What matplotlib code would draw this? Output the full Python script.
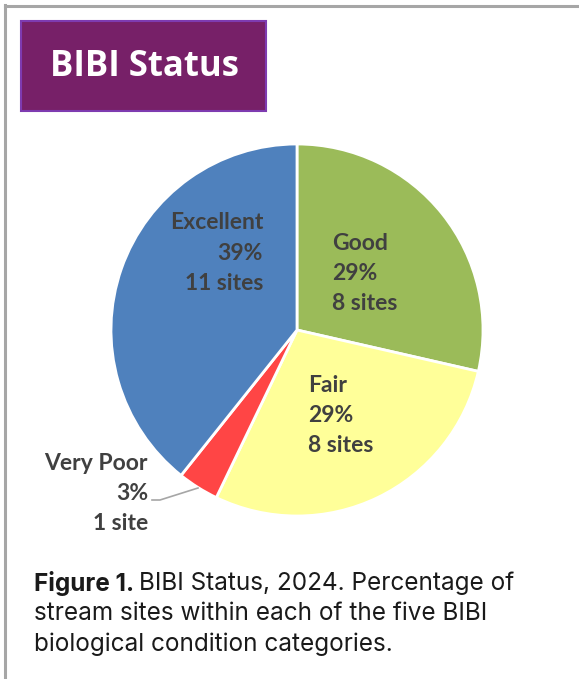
import matplotlib
matplotlib.use("Agg")
import matplotlib.pyplot as plt
from matplotlib.patches import Rectangle
from matplotlib.lines import Line2D

categories = ["Good", "Fair", "Very Poor", "Excellent"]
sites = [8, 8, 1, 11]
pct_labels = ["29%", "29%", "3%", "39%"]
site_labels = ["8 sites", "8 sites", "1 site", "11 sites"]
colors = ["#9BBB59", "#FFFF99", "#FF4545", "#4F81BD"]

W, H = 579, 679
fig = plt.figure(figsize=(W / 100, H / 100), dpi=100)
fig.patch.set_facecolor("white")

def fx(x):
    return x / W

def fy(y):
    return 1 - y / H

# frame lines (top and left)
fig.add_artist(Line2D([fx(5), 1], [fy(5.5), fy(5.5)], color="#A6A6A6", lw=2.2))
fig.add_artist(Line2D([fx(5), fx(5)], [fy(5), 0], color="#A6A6A6", lw=2.2))

# title box
fig.add_artist(Rectangle((fx(20.5), fy(111)), (266 - 20.5) / W, (111 - 21) / H,
                         facecolor="#772068", edgecolor="#7E3BB0", lw=1.5,
                         transform=fig.transFigure))
fig.text(fx(144), fy(67), "BIBI Status", color="white", fontsize=25,
         fontweight="bold", family="Open Sans", ha="center", va="center")

# pie
cx, cy, r = 297, 330, 186
ax = fig.add_axes([fx(cx - r), fy(cy + r), 2 * r / W, 2 * r / H])
ax.pie(sites, colors=colors, startangle=90, counterclock=False, radius=1,
       wedgeprops=dict(edgecolor="white", linewidth=2))
ax.set_xlim(-1, 1)
ax.set_ylim(-1, 1)
ax.set_aspect("auto")
ax.axis("off")

label_color = "#404040"
lab_font = dict(family="Lato", fontsize=16.5, fontweight="bold", color=label_color)
# label anchors in pixels: (x, first-line y, ha)
anchors = {
    "Good": (332, 243, "left"),
    "Fair": (308, 385, "left"),
    "Very Poor": (148, 463, "right"),
    "Excellent": (263, 223, "right"),
}
for cat, p, s in zip(categories, pct_labels, site_labels):
    x, y, ha = anchors[cat]
    for i, line in enumerate([cat, p, s]):
        fig.text(fx(x), fy(y + i * 30), line, ha=ha, va="center", **lab_font)

# leader line for Very Poor
fig.add_artist(Line2D([fx(152), fx(160), fx(198)], [fy(500), fy(500), fy(488)],
                      color="#A6A6A6", lw=1.2))

# caption
cap_font = dict(family="Inter", fontsize=17.5, color="#1a1a1a")
t = fig.text(fx(34), fy(583), "Figure 1.", ha="left", va="center",
             fontweight="bold", **cap_font)
fig.canvas.draw()
bb = t.get_window_extent()
fig.text(bb.x1 / W + 5 / W, fy(583), "BIBI Status, 2024. Percentage of",
         ha="left", va="center", **cap_font)
fig.text(fx(34), fy(614), "stream sites within each of the five BIBI",
         ha="left", va="center", **cap_font)
fig.text(fx(34), fy(644), "biological condition categories.",
         ha="left", va="center", **cap_font)

fig.savefig("out.png", dpi=100, facecolor="white")
